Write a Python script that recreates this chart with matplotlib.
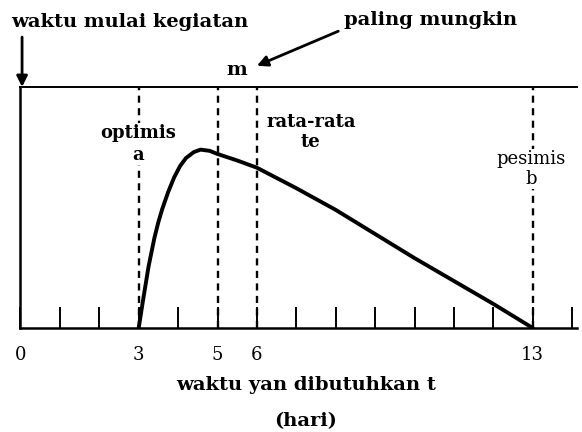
import matplotlib.pyplot as plt

# waktu kegiatan (hari)
t_opt = 3
t_mode = 5
t_mean = 6
t_pes = 13

# bentuk kurva distribusi beta (tinggi relatif)
curve_t = [3.0, 3.1, 3.25, 3.4, 3.5, 3.6, 3.75, 3.9, 4.05, 4.2, 4.4, 4.57, 4.8,
           5.0, 5.5, 6.0, 7.0, 8.0, 9.0, 10.0, 11.0, 12.0, 13.0]
curve_h = [0.0, 0.105, 0.255, 0.375, 0.44, 0.495, 0.565, 0.625, 0.672, 0.705, 0.73, 0.74, 0.735,
           0.722, 0.695, 0.665, 0.58, 0.49, 0.39, 0.29, 0.195, 0.10, 0.0]

tick_pos = list(range(0, 15))
tick_text = ['0', '', '', '3', '', '5', '6', '', '', '', '', '', '', '13', '']

plt.rcParams['font.family'] = ['DejaVu Serif']

fig = plt.figure(figsize=(5.82, 4.32), dpi=100)
ax = fig.add_axes([0.0352, 0.2407, 0.956, 0.558])

ax.plot(curve_t, curve_h, color='black', lw=2.8, solid_capstyle='round',
        solid_joinstyle='round', zorder=3)

for xv in [t_opt, t_mode, t_mean, t_pes]:
    ax.plot([xv, xv], [0, 1], color='black', lw=1.7, dashes=(3, 2.3), zorder=1)

ax.set_xlim(0, 14.12)
ax.set_ylim(0, 1)
ax.set_xticks(tick_pos)
ax.set_xticklabels(tick_text, fontsize=13)
ax.tick_params(axis='x', direction='in', length=15, width=1.4, pad=13)
ax.set_yticks([])

for s in ['left', 'bottom']:
    ax.spines[s].set_linewidth(1.8)
ax.spines['top'].set_linewidth(1.4)
ax.spines['right'].set_visible(False)

box = dict(facecolor='white', edgecolor='none', pad=1)
ax.text(2.98, 0.763, 'optimis\na', ha='center', va='center', fontsize=13,
        fontweight='bold', linespacing=1.25, bbox=box, zorder=2)
ax.text(7.37, 0.815, 'rata-rata\nte', ha='center', va='center', fontsize=13,
        fontweight='bold', linespacing=1.15, zorder=2)
ax.text(12.96, 0.66, 'pesimis\nb', ha='center', va='center', fontsize=13,
        linespacing=1.1, bbox=box, zorder=2)

ax.text(5.5, 1.07, 'm', ha='center', va='center', fontsize=14,
        fontweight='bold', clip_on=False)

# panah ke m
ax.annotate('paling mungkin', xy=(6.0, 1.088), xytext=(8.2, 1.278),
            ha='left', va='center', fontsize=14, fontweight='bold',
            annotation_clip=False,
            arrowprops=dict(arrowstyle='-|>', color='black', lw=2,
                            mutation_scale=16, relpos=(0, 0), shrinkA=2, shrinkB=0))

# waktu mulai kegiatan
ax.text(2.78, 1.27, 'waktu mulai kegiatan', ha='center', va='center', fontsize=14,
        fontweight='bold', clip_on=False)
ax.annotate('', xy=(0.04, 1.0), xytext=(0.04, 1.207), annotation_clip=False,
            arrowprops=dict(arrowstyle='-|>', color='black', lw=2,
                            mutation_scale=16, shrinkA=0, shrinkB=0))

fig.text(306 / 582, 1 - 385 / 432, 'waktu yan dibutuhkan t', ha='center', va='center',
         fontsize=14, fontweight='bold')
fig.text(306 / 582, 1 - 421 / 432, '(hari)', ha='center', va='center',
         fontsize=14, fontweight='bold')

fig.savefig('out.png', dpi=100)
